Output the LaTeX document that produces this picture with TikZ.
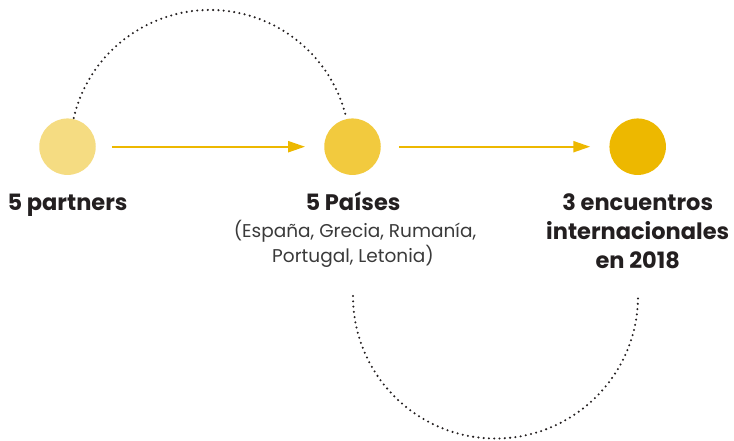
\documentclass[tikz,border=0pt]{standalone}
\usepackage{fontspec}
\setmainfont{Poppins}
\usetikzlibrary{arrows.meta}
\definecolor{cA}{HTML}{F5DC82}
\definecolor{cB}{HTML}{F2CA3E}
\definecolor{cC}{HTML}{EDB800}
\definecolor{txt}{HTML}{231F20}
\definecolor{sub}{HTML}{3A3A3A}
\begin{document}
\begin{tikzpicture}[x=1pt,y=-1pt,
  dot/.style={circle,minimum size=56.5pt,inner sep=0pt},
  flow/.style={draw=cC,line width=2.2pt,-{Triangle[length=17pt,width=11pt]}},
  dotline/.style={draw=txt,line width=2.3pt,line cap=round,dash pattern=on 0pt off 5.3pt},
  head/.style={font=\bfseries\fontsize{22.5}{28}\selectfont,text=txt,inner sep=0pt,anchor=base},
  subt/.style={font=\fontsize{18.5}{26}\selectfont,text=sub,inner sep=0pt,anchor=base}]
\useasboundingbox (0,0) rectangle (734,441);
\node[dot,fill=cA] (c1) at (67.5,146.7) {};
\node[dot,fill=cB] (c2) at (352.5,146.7) {};
\node[dot,fill=cC] (c3) at (637.7,146.7) {};
\draw[flow,shorten <=16pt,shorten >=19pt] (c1.east) -- (c2.west);
\draw[flow,shorten <=18pt,shorten >=19pt] (c2.east) -- (c3.west);
\node[head] (t1) at (67.5,211) {5 partners};
\node[head] (t2) at (353,211) {5 Países};
\node[subt] (s2a) at (355,237.5) {(España, Grecia, Rumanía,};
\node[subt] (s2b) at (353,262) {Portugal, Letonia)};
\node[head] (t3a) at (637.7,211) {3 encuentros};
\node[head] (t3b) at (637.7,240) {internacionales};
\node[head] (t3c) at (637.7,268.5) {en 2018};
\coordinate (a1) at (73.7,118);
\coordinate (b1) at (353,296);
\draw[dotline] (a1) arc[start angle=-166.8,end angle=-13.2,radius=140];
\draw[dotline] (b1) arc[start angle=180,end angle=0,radius=142.5];
\end{tikzpicture}
\end{document}
